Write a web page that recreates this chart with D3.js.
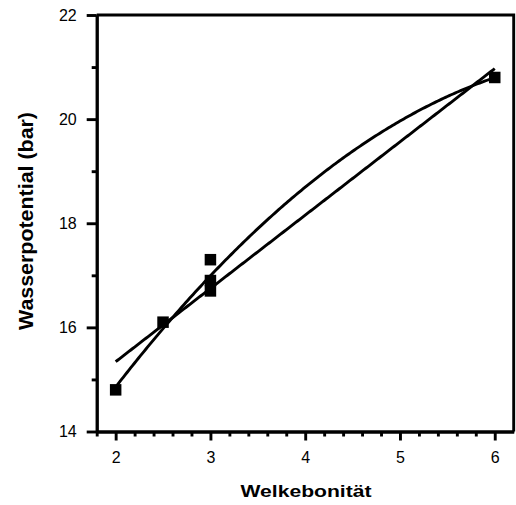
<!DOCTYPE html>
<html>
<head>
<meta charset="utf-8">
<script src="https://cdn.jsdelivr.net/npm/d3@7"></script>
<style>
  html, body { margin: 0; padding: 0; background: #fff; }
  svg { display: block; }
  text { font-family: "Liberation Sans", Arial, Helvetica, sans-serif; fill: #000; }
</style>
</head>
<body>
<svg id="chart" width="516" height="505"></svg>
<script>
// Measurements: Welkebonität vs. Wasserpotential
const welkebonitaet = [2, 2.5, 3, 3, 3, 6];
const wasserpotential = [14.8, 16.1, 17.3, 16.9, 16.7, 20.8];

const xMajorTicks = [2, 3, 4, 5, 6];
const xMinorTicks = [1.8, 2.2, 2.4, 2.6, 2.8, 3.2, 3.4, 3.6, 3.8, 4.2, 4.4, 4.6, 4.8, 5.2, 5.4, 5.6, 5.8];
const yMajorTicks = [14, 16, 18, 20, 22];
const yMinorTicks = [15, 17, 19, 21];

const xTitle = "Welkebonität";
const yTitle = "Wasserpotential (bar)";

const svg = d3.select("#chart");
const plotLeft = 96.7, plotRight = 513.7, plotTop = 15, plotBottom = 431.5;
const strokeW = 2.9;

const x = d3.scaleLinear().domain([1.8, 6.2]).range([plotLeft, plotRight]);
const y = d3.scaleLinear().domain([14, 22]).range([plotBottom, plotTop]);

// Least-squares polynomial fit of a given degree (normal equations)
function polyFit(xs, ys, degree) {
  const n = degree + 1;
  const A = Array.from({length: n}, () => new Array(n + 1).fill(0));
  xs.forEach((xv, k) => {
    for (let i = 0; i < n; i++) {
      for (let j = 0; j < n; j++) A[i][j] += Math.pow(xv, i + j);
      A[i][n] += ys[k] * Math.pow(xv, i);
    }
  });
  for (let c = 0; c < n; c++) {
    let p = c;
    for (let r = c + 1; r < n; r++) if (Math.abs(A[r][c]) > Math.abs(A[p][c])) p = r;
    [A[c], A[p]] = [A[p], A[c]];
    for (let r = 0; r < n; r++) {
      if (r === c) continue;
      const f = A[r][c] / A[c][c];
      for (let k = c; k <= n; k++) A[r][k] -= f * A[c][k];
    }
  }
  return A.map((row, i) => row[n] / row[i]);
}
const evalPoly = (coef, xv) => coef.reduce((s, c, i) => s + c * Math.pow(xv, i), 0);

const linCoef = polyFit(welkebonitaet, wasserpotential, 1);
const quadCoef = polyFit(welkebonitaet, wasserpotential, 2);
const xMin = d3.min(welkebonitaet), xMax = d3.max(welkebonitaet);
const samples = d3.range(0, 201).map(i => xMin + (xMax - xMin) * i / 200);

const line = d3.line().x(d => x(d[0])).y(d => y(d[1]));

// Axes: minor ticks first, then major ticks with labels
function styleAxis(g) {
  g.select(".domain").attr("stroke", "#000").attr("stroke-width", strokeW);
  g.selectAll(".tick line").attr("stroke", "#000").attr("stroke-width", strokeW);
}

svg.append("g")
  .attr("transform", `translate(0,${plotBottom})`)
  .call(d3.axisBottom(x).tickValues(xMinorTicks).tickSize(5).tickSizeOuter(0).tickFormat(""))
  .call(styleAxis);
const xAxisG = svg.append("g")
  .attr("transform", `translate(0,${plotBottom})`)
  .call(d3.axisBottom(x).tickValues(xMajorTicks).tickSize(9).tickSizeOuter(0).tickPadding(11).tickFormat(d3.format("d")))
  .call(styleAxis);
xAxisG.selectAll("text").attr("font-size", 16).attr("font-family", "Liberation Sans, Arial, sans-serif");

svg.append("g")
  .attr("transform", `translate(${plotLeft},0)`)
  .call(d3.axisLeft(y).tickValues(yMinorTicks).tickSize(5).tickSizeOuter(0).tickFormat(""))
  .call(styleAxis);
const yAxisG = svg.append("g")
  .attr("transform", `translate(${plotLeft},0)`)
  .call(d3.axisLeft(y).tickValues(yMajorTicks).tickSize(10).tickSizeOuter(0).tickPadding(10).tickFormat(d3.format("d")))
  .call(styleAxis);
yAxisG.selectAll("text").attr("font-size", 16).attr("font-family", "Liberation Sans, Arial, sans-serif");

// Frame: top and right edges
svg.append("path")
  .attr("d", `M${plotLeft},${plotTop}H${plotRight}V${plotBottom}`)
  .attr("fill", "none").attr("stroke", "#000").attr("stroke-width", strokeW);

// Fitted curves
svg.append("path")
  .datum(samples.map(v => [v, evalPoly(linCoef, v)]))
  .attr("d", line).attr("fill", "none").attr("stroke", "#000").attr("stroke-width", strokeW);
svg.append("path")
  .datum(samples.map(v => [v, evalPoly(quadCoef, v)]))
  .attr("d", line).attr("fill", "none").attr("stroke", "#000").attr("stroke-width", strokeW);

// Data points as filled squares
const sq = 11.5;
svg.append("g").selectAll("rect")
  .data(welkebonitaet.map((v, i) => [v, wasserpotential[i]]))
  .join("rect")
  .attr("x", d => x(d[0]) - sq / 2)
  .attr("y", d => y(d[1]) - sq / 2)
  .attr("width", sq).attr("height", sq)
  .attr("fill", "#000");

// Axis titles
svg.append("text")
  .attr("x", 306).attr("y", 497)
  .attr("text-anchor", "middle")
  .attr("font-size", 16.5).attr("font-weight", "bold")
  .attr("textLength", 131).attr("lengthAdjust", "spacingAndGlyphs")
  .text(xTitle);

svg.append("text")
  .attr("transform", "translate(33,221) rotate(-90)")
  .attr("text-anchor", "middle")
  .attr("font-size", 20).attr("font-weight", "bold")
  .attr("textLength", 218).attr("lengthAdjust", "spacingAndGlyphs")
  .text(yTitle);
</script>
</body>
</html>
